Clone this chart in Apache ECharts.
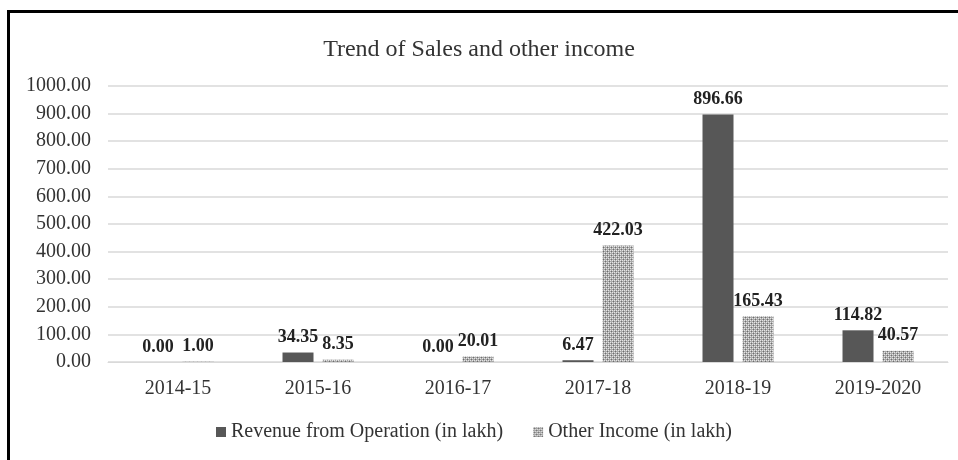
<!DOCTYPE html>
<html>
<head>
<meta charset="utf-8">
<script src="https://cdn.jsdelivr.net/npm/echarts@6/dist/echarts.min.js"></script>
<style>
  body { margin: 0; background: #fff; }
  #wrap { position: relative; width: 958px; height: 460px; }
  #main { width: 958px; height: 460px; }
  #frame { position: absolute; left: 7px; top: 10px; right: -5px; bottom: -5px;
           border-top: 3px solid #000; border-left: 3px solid #000; pointer-events: none; }
</style>
</head>
<body>
<div id="wrap">
  <div id="main"></div>
  <div id="frame"></div>
</div>
<script>
// years on x axis
var years = ['2014-15', '2015-16', '2016-17', '2017-18', '2018-19', '2019-2020'];
// values in lakh
var revenue = [0.00, 34.35, 0.00, 6.47, 896.66, 114.82];
var otherIncome = [1.00, 8.35, 20.01, 422.03, 165.43, 40.57];
var seriesNames = ['Revenue from Operation (in lakh)', 'Other Income (in lakh)'];

var serif = '"Liberation Serif", "Times New Roman", serif';

// dotted fill like the original picture
function makePattern() {
    var c = document.createElement('canvas');
    c.width = 4; c.height = 4;
    var ctx = c.getContext('2d');
    ctx.fillStyle = '#a8a8a8';
    ctx.fillRect(0, 0, 4, 4);
    ctx.fillStyle = '#e6e6e6';
    ctx.fillRect(0, 0, 1, 1);
    ctx.fillRect(2, 2, 1, 1);
    ctx.fillRect(2, 0, 1, 1);
    ctx.fillRect(0, 2, 1, 1);
    ctx.fillStyle = '#6e6e6e';
    ctx.fillRect(1, 1, 1, 1);
    ctx.fillRect(3, 3, 1, 1);
    return c;
}
var pattern = { image: makePattern(), repeat: 'repeat' };

var myChart = echarts.init(document.getElementById('main'));

var labelStyle = {
    show: true,
    position: 'top',
    distance: 6,
    fontFamily: serif,
    fontSize: 18,
    fontWeight: 'bold',
    color: '#222',
    formatter: function (p) { return p.value.toFixed(2); }
};

var option = {
    animation: false,
    title: {
        text: 'Trend of Sales and other income',
        left: 'center',
        top: 33,
        textStyle: { fontFamily: serif, fontSize: 24, fontWeight: 'normal', color: '#333' }
    },
    legend: {
        data: seriesNames,
        bottom: 13,
        left: 211,
        icon: 'rect',
        itemWidth: 10,
        itemHeight: 10,
        itemGap: 30,
        textStyle: { fontFamily: serif, fontSize: 20, color: '#333' }
    },
    grid: { left: 108, right: 10, top: 86, bottom: 98 },
    xAxis: {
        type: 'category',
        data: years,
        axisTick: { show: false },
        axisLine: { lineStyle: { color: '#d9d9d9' } },
        axisLabel: { fontFamily: serif, fontSize: 20, color: '#333', margin: 17 }
    },
    yAxis: {
        type: 'value',
        min: 0,
        max: 1000,
        interval: 100,
        axisLabel: {
            fontFamily: serif, fontSize: 20, color: '#333', margin: 17,
            formatter: function (v) { return v.toFixed(2); }
        },
        splitLine: { lineStyle: { color: '#d9d9d9', width: 1.5 } }
    },
    series: [
        {
            name: seriesNames[0],
            type: 'bar',
            data: revenue,
            barWidth: 31,
            barGap: '29%',
            itemStyle: { color: '#575757' },
            label: labelStyle
        },
        {
            name: seriesNames[1],
            type: 'bar',
            data: otherIncome,
            barWidth: 31,
            itemStyle: { color: pattern },
            label: labelStyle
        }
    ]
};

myChart.setOption(option);
</script>
</body>
</html>
